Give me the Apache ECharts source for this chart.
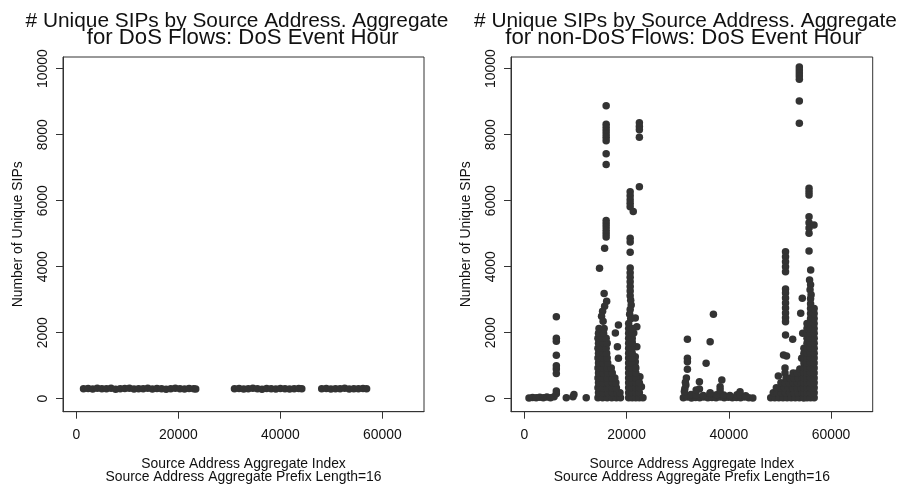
<!DOCTYPE html>
<html>
<head>
<meta charset="utf-8">
<script src="https://cdn.jsdelivr.net/npm/echarts@6/dist/echarts.min.js"></script>
<style>
html,body{margin:0;padding:0;background:#fff;}
#chart{width:900px;height:484px;}
</style>
</head>
<body>
<div id="chart"></div>
<script>
// ---------- text ----------
const titleLeft = ['# Unique SIPs by Source Address. Aggregate', 'for DoS Flows: DoS Event Hour'];
const titleRight = ['# Unique SIPs by Source Address. Aggregate', 'for non-DoS Flows: DoS Event Hour'];
const xAxisTitle = 'Source Address Aggregate Index\nSource Address Aggregate Prefix Length=16';
const yAxisTitle = 'Number of Unique SIPs';

// ---------- tick labels ----------
const xTicks = [0, 20000, 40000, 60000];
const yTicks = [0, 2000, 4000, 6000, 8000, 10000];

// ---------- DoS flows (left panel) ----------
const dosSeg1 = [[1400,300],[2300,310],[3200,295],[4100,315],[5000,300],[5900,305],[6800,320],[7700,290],[8600,300],[9500,310],[10400,320],[11300,295],[12200,305],[13100,300],[14000,315],[14900,295],[15800,310],[16700,300],[17600,290],[18500,305],[19400,315],[20300,300],[21200,295],[22100,310],[23000,300],[23400,295]];
const dosSeg2 = [[31000,300],[31900,310],[32800,295],[33700,305],[34600,315],[35500,300],[36400,290],[37300,310],[38200,300],[39100,295],[40000,310],[40900,305],[41800,295],[42700,300],[43600,310],[44200,300]];
const dosSeg3 = [[48100,300],[49000,310],[49900,295],[50800,305],[51700,300],[52600,315],[53500,295],[54400,305],[55300,300],[56200,310],[56900,300]];

// ---------- non-DoS flows (right panel) ----------
const nonDosLow = [[900,20],[1600,35],[2300,25],[3000,45],[3700,30],[4400,50],[5100,30],[5800,60],[6250,150],[6250,230],[6250,760],[6250,900],[6250,1000],[6250,1320],[6250,1740],[6250,1830],[6250,2480],[8200,30],[9500,60],[9700,130],[12100,25]];

const nonDos16k = [
 [16000,8880],[16000,8320],[16000,8220],[16000,8120],[16000,8020],[16000,7920],[16000,7820],[16000,7420],[16000,7100],
 [16000,5400],[16000,5300],[16000,5200],[16000,5100],[16000,5000],[16000,4900],[15700,4560],[14700,3950],[15600,3190],
 [16100,2950],[15700,2800],[15300,2650],[15100,2500],[15400,2350],[18400,2230],[17800,1990],[18200,1575],[18400,1224],
 [14400,30],[15300,30],[16200,30],[17100,30],[18000,30],[18800,30],
 [14500,180],[15400,180],[16300,180],[17200,180],[18100,180],[18700,180],
 [14400,330],[15300,330],[16200,330],[17100,330],[18000,330],
 [14500,480],[15400,480],[16300,480],[17200,480],[17900,480],
 [14400,630],[15300,630],[16200,630],[17100,630],[17700,630],
 [14500,780],[15400,780],[16300,780],[17200,780],
 [14400,930],[15300,930],[16200,930],[17000,930],
 [14500,1080],[15400,1080],[16300,1080],
 [14400,1230],[15300,1230],[16200,1230],
 [14500,1380],[15400,1380],[16100,1380],
 [14400,1530],[15300,1530],[16000,1530],
 [14500,1680],[15400,1680],[16200,1680],
 [14400,1830],[15300,1830],[16000,1830],
 [14500,1980],[15500,1980],
 [14600,2130],[15600,2130]
];

const nonDos21k = [
 [22500,8360],[22500,8250],[22500,8150],[22500,7920],[22500,6420],[20700,6270],[20700,6150],[20700,6030],[20700,5920],[20700,5820],[21300,5670],
 [20700,4860],[20700,4750],[20700,4440],[20700,3960],[20700,3820],[20700,3680],[20700,3540],[20700,3400],[20700,3260],[20700,3120],[20800,2980],[20900,2840],[20700,2700],[20600,2560],[20800,2420],
 [21700,2445],[22000,2180],[21400,1990],[21050,1727],[22000,1575],[21700,1270],[21700,1120],[21700,970],[22600,667],[22900,364],
 [20400,30],[20400,180],[20400,330],[20400,480],[20400,630],[20400,780],[20400,930],[20400,1080],[20400,1230],[20400,1380],[20400,1530],[20400,1680],[20400,1830],[20400,1980],[20400,2130],[20400,2280],
 [21100,30],[21100,180],[21100,330],[21100,480],[21100,630],[21100,780],[21100,930],[21100,1080],[21100,1230],[21100,1380],[21100,1530],[21100,1680],[21100,1830],[21100,1980],[21100,2130],
 [21800,30],[21800,180],[21800,330],[21800,480],[21800,630],[21800,780],[21800,930],
 [22500,30],[22500,180],[22500,330],[22500,480],
 [23200,30]
];

const nonDos36k = [
 [31100,30],[31900,50],[32700,20],[33500,40],[34300,30],[35100,55],[35900,25],[36700,40],[37500,30],[38300,50],[39100,25],[39900,45],[40700,30],[41500,40],[42300,25],[43100,50],[43900,30],[44700,20],
 [31500,120],[32600,130],[33600,110],[35000,100],[36300,140],[37600,120],[38300,150],[39000,110],[40200,100],[41600,120],[42200,130],[43300,90],
 [31900,1800],[36990,2557],[36350,1727],[35560,1073],[31900,1224],[31900,1120],[31900,890],[31700,627],[31500,500],[31600,415],
 [34250,515],[34250,294],[38630,567],[38300,364],[38300,264],[42200,212],[33610,264],[36350,182],[31400,300],[31300,220]
];

const nonDos54k = [
 [53800,10050],[53800,9960],[53800,9870],[53800,9780],[53800,9680],[53800,9020],[53800,8345],
 [55700,6375],[55700,6270],[55700,6170],[55700,5515],[55700,5330],[55700,5170],[55700,5010],[56670,5263],[55700,4475],[56020,3900],[55800,3600],[56000,3450],[55900,3300],[56100,3150],
 [51100,4455],[51100,4300],[51100,4150],[51100,4000],[51100,3850],[51100,3325],[51100,3200],[51100,3050],[51100,2900],[51100,2750],[51100,2600],[51100,2450],[51100,2333],[51100,1930],[52500,1800],[51300,1294],[50700,1324],[51000,930],[51000,780],
 [54380,3040],[54070,2590],[54460,1980],[54260,1224],[49690,688],
 [48200,30],[49000,30],[49800,30],[50600,30],[51400,30],[52200,30],[53000,30],[53800,30],[54600,30],
 [48700,180],[49500,180],[50300,180],[51100,180],[51900,180],[52700,180],[53500,180],[54300,180],
 [49300,330],[50100,330],[50900,330],[51700,330],[52500,330],[53300,330],[54100,330],
 [50200,480],[51000,480],[51800,480],[52600,480],[53400,480],[54200,480],
 [51200,630],[52000,630],[52800,630],[53600,630],[54300,630],
 [52600,780],[53400,780],[54200,780],
 [53900,900],[54500,900],
 [54700,30],[54700,180],[54700,330],[54700,480],[54700,630],[54700,780],[54700,930],[54700,1080],[54700,1230],[54700,1380],[54700,1530],
 [55300,30],[55300,180],[55300,330],[55300,480],[55300,630],[55300,780],[55300,930],[55300,1080],[55300,1230],[55300,1380],[55300,1530],[55300,1680],[55300,1830],[55300,1980],[55300,2130],[55300,2280],
 [56000,30],[56000,180],[56000,330],[56000,480],[56000,630],[56000,780],[56000,930],[56000,1080],[56000,1230],[56000,1380],[56000,1530],[56000,1680],[56000,1830],[56000,1980],[56000,2130],[56000,2280],[56000,2430],[56000,2580],[56000,2730],[56000,2880],[56000,3030],
 [56700,30],[56700,180],[56700,330],[56700,480],[56700,630],[56700,780],[56700,930],[56700,1080],[56700,1230],[56700,1380],[56700,1530],[56700,1680],[56700,1830],[56700,1980],[56700,2130],[56700,2280],[56700,2430],[56700,2580],[56700,2730]
];

// ---------- rendering ----------
const FONT = '"Liberation Sans", Arial, Helvetica, sans-serif';
const TXT = '#111';
const PT = '#333333';
const FS = 13.9;

function xAxisCfg(gi) {
  return {
    type: 'value', gridIndex: gi, min: -2621, max: 68157,
    axisLine: { show: true, onZero: false, lineStyle: { color: '#333', width: 1 } },
    axisTick: { show: true, length: 7, customValues: xTicks, lineStyle: { color: '#333' } },
    axisLabel: { customValues: xTicks, formatter: v => String(v), fontSize: FS, fontFamily: FONT, color: TXT, margin: 16 },
    splitLine: { show: false },
    name: xAxisTitle, nameLocation: 'middle', nameGap: 45.5,
    nameTextStyle: { fontSize: FS, fontFamily: FONT, color: TXT, lineHeight: 13 }
  };
}
function yAxisCfg(gi) {
  return {
    type: 'value', gridIndex: gi, min: -394, max: 10354,
    axisLine: { show: true, onZero: false, lineStyle: { color: '#333', width: 1 } },
    axisTick: { show: true, length: 7, customValues: yTicks, lineStyle: { color: '#333' } },
    axisLabel: { customValues: yTicks, formatter: v => String(v), rotate: 90, fontSize: FS, fontFamily: FONT, color: TXT, margin: 13 },
    splitLine: { show: false },
    name: yAxisTitle, nameLocation: 'middle', nameGap: 38,
    nameTextStyle: { fontSize: FS, fontFamily: FONT, color: TXT }
  };
}
function scatter(gi, data) {
  return { type: 'scatter', xAxisIndex: gi, yAxisIndex: gi, data: data, symbol: 'circle', symbolSize: 7.5,
    itemStyle: { color: PT, opacity: 1 }, silent: true, animation: false };
}
function titleText(x, y, text, size) {
  return { type: 'text', x: x, y: y, silent: true,
    style: { text: text, font: size + 'px ' + FONT, fill: TXT, textAlign: 'center', textVerticalAlign: 'middle', align: 'center', verticalAlign: 'middle' } };
}

const chart = echarts.init(document.getElementById('chart'), null, { renderer: 'canvas' });
chart.setOption({
  animation: false,
  backgroundColor: '#fff',
  grid: [
    { left: 63, width: 361, top: 57, height: 354.7, show: true, borderColor: '#333', borderWidth: 1, containLabel: false, outerBoundsMode: 'none' },
    { left: 511, width: 361.7, top: 57, height: 354.7, show: true, borderColor: '#333', borderWidth: 1, containLabel: false, outerBoundsMode: 'none' }
  ],
  xAxis: [xAxisCfg(0), xAxisCfg(1)],
  yAxis: [yAxisCfg(0), yAxisCfg(1)],
  series: [
    scatter(0, dosSeg1), scatter(0, dosSeg2), scatter(0, dosSeg3),
    scatter(1, nonDosLow), scatter(1, nonDos16k), scatter(1, nonDos21k), scatter(1, nonDos36k), scatter(1, nonDos54k)
  ],
  graphic: [
    titleText(237, 21, titleLeft[0], 20.85), titleText(242.7, 38, titleLeft[1], 22.2),
    titleText(685.5, 21, titleRight[0], 20.85), titleText(683.5, 38, titleRight[1], 22.2)
  ]
});
</script>
</body>
</html>
